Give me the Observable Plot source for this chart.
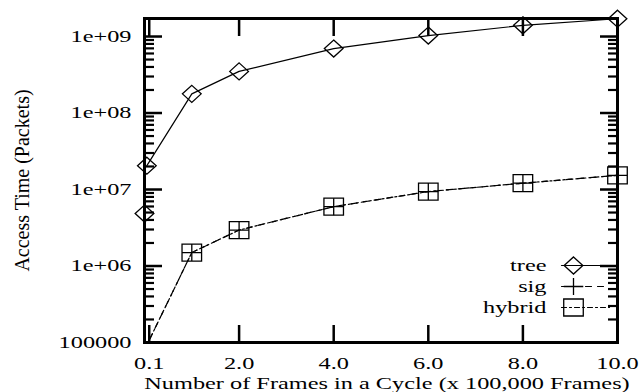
<!DOCTYPE html>
<html><head><meta charset="utf-8">
<script src="https://cdn.jsdelivr.net/npm/d3@7"></script>
<script src="https://cdn.jsdelivr.net/npm/@observablehq/plot@0.6"></script>
<style>
html,body{margin:0;padding:0;background:#fff;}
#chart svg{display:block;}
#chart svg, #chart svg text{font-family:"Liberation Serif","Times New Roman",serif !important;}
</style></head><body><div id="chart"></div>
<script>
// ---- data ----
const treeX = [0.05, 1, 2, 4, 6, 8, 10];
const treeY = [2.05e7, 1.78e8, 3.5e8, 6.95e8, 1.03e9, 1.4e9, 1.71e9];
const treeLoneX = [0];
const treeLoneY = [4.85e6];
const sigX = [0, 1, 2, 4, 6, 8, 10];
const sigY = [8e4, 1.5e6, 2.95e6, 5.97e6, 9.4e6, 1.21e7, 1.53e7];
const hybridX = [0, 1, 2, 4, 6, 8, 10];
const hybridY = [8e4, 1.5e6, 2.95e6, 5.97e6, 9.4e6, 1.21e7, 1.53e7];
const xTicks = [0.1, 2, 4, 6, 8, 10];
const xTickLabels = ["0.1", "2.0", "4.0", "6.0", "8.0", "10.0"];
const yTicks = [1e5, 1e6, 1e7, 1e8, 1e9];
const yTickLabels = ["100000", "1e+06", "1e+07", "1e+08", "1e+09"];
const legendLabels = ["tree", "sig", "hybrid"];
const xLabel = "Number of Frames in a Cycle (x 100,000 Frames)";
const yLabel = "Access Time (Packets)";
const xDomain = [0, 10];
const yDomain = [1e5, 1.72e9];

// ---- build ----
const yMinor = [];
for (const d of yTicks) for (let m = 2; m <= 9; m++) if (d * m <= yDomain[1]) yMinor.push(d * m);

const tree = treeX.map((x, i) => ({x, y: treeY[i]}));
const treeLone = treeLoneX.map((x, i) => ({x, y: treeLoneY[i]}));
const sig = sigX.map((x, i) => ({x, y: sigY[i]}));
const hybrid = hybridX.map((x, i) => ({x, y: hybridY[i]}));
const inRange = d => d.y >= yDomain[0] && d.y <= yDomain[1];

const diamondSym = {draw(c, s) { const r = Math.sqrt(s / Math.PI), rx = r * 1.1;
  c.moveTo(0, -r); c.lineTo(rx, 0); c.lineTo(0, r); c.lineTo(-rx, 0); c.closePath(); }};
const squareSym = {draw(c, s) { const r = Math.sqrt(s / Math.PI), rx = r * 1.15;
  c.moveTo(-rx, -r); c.lineTo(rx, -r); c.lineTo(rx, r); c.lineTo(-rx, r); c.closePath(); }};
const plusSym = {draw(c, s) { const r = Math.sqrt(s / Math.PI), rx = r * 1.15;
  c.moveTo(-rx, 0); c.lineTo(rx, 0); c.moveTo(0, -r); c.lineTo(0, r); }};
const lineShape = {draw(c, l) { c.moveTo(0, 0); c.lineTo(0, -l); }};

const series = [
  {dash: null, sym: diamondSym},
  {dash: "6,6", sym: plusSym},
  {dash: "5,3,2,3", sym: squareSym}
];
const legendDy = [-77, -56, -35];

const legendMarks = legendLabels.flatMap((lab, i) => [
  Plot.text([lab], {frameAnchor: "bottom-right", text: d => d, textAnchor: "end", lineAnchor: "middle", dx: -71, dy: legendDy[i], fill: "black"}),
  Plot.vector([lab], {frameAnchor: "bottom-right", dx: -56, dy: legendDy[i], rotate: 90, anchor: "start", length: 48,
    shape: lineShape, stroke: "black", strokeWidth: 1.2, strokeDasharray: series[i].dash}),
  Plot.dot([lab], {frameAnchor: "bottom-right", dx: -44, dy: legendDy[i], r: 8.5, symbol: series[i].sym,
    stroke: "black", fill: "none", strokeWidth: 1.3})
]);

const chart = Plot.plot({
  width: 641, height: 392,
  marginLeft: 144, marginRight: 24, marginTop: 18, marginBottom: 50,
  style: {fontFamily: "Liberation Serif", fontSize: "17px", background: "white", color: "black"},
  x: {domain: xDomain},
  y: {type: "log", domain: yDomain},
  marks: [
    // lines
    Plot.line(tree, {x: "x", y: "y", stroke: "black", strokeWidth: 1.2, clip: true}),
    Plot.line(sig, {x: "x", y: "y", stroke: "black", strokeWidth: 1.2, strokeDasharray: "6,6", clip: true}),
    Plot.line(hybrid, {x: "x", y: "y", stroke: "black", strokeWidth: 1.2, strokeDasharray: "5,3,2,3", clip: true}),
    // points
    Plot.dot(tree.filter(inRange), {x: "x", y: "y", r: 8.5, symbol: diamondSym, stroke: "black", fill: "none", strokeWidth: 1.3}),
    Plot.dot(treeLone.filter(inRange), {x: "x", y: "y", r: 8.5, symbol: diamondSym, stroke: "black", fill: "none", strokeWidth: 1.3}),
    Plot.dot(sig.filter(inRange), {x: "x", y: "y", r: 8.5, symbol: plusSym, stroke: "black", fill: "none", strokeWidth: 1.3}),
    Plot.dot(hybrid.filter(inRange), {x: "x", y: "y", r: 8.5, symbol: squareSym, stroke: "black", fill: "none", strokeWidth: 1.3}),
    // inward ticks
    Plot.axisX(xTicks, {anchor: "bottom", tickSize: -17, strokeWidth: 2.5, text: null, label: null}),
    Plot.axisX(xTicks, {anchor: "top", tickSize: -17, strokeWidth: 2.5, text: null, label: null}),
    Plot.axisY(yTicks, {anchor: "left", tickSize: -18, strokeWidth: 2.5, text: null, label: null}),
    Plot.axisY(yTicks, {anchor: "right", tickSize: -18, strokeWidth: 2.5, text: null, label: null}),
    Plot.axisY(yMinor, {anchor: "left", tickSize: -10, strokeWidth: 2.2, text: null, label: null}),
    Plot.axisY(yMinor, {anchor: "right", tickSize: -10, strokeWidth: 2.2, text: null, label: null}),
    // tick labels
    Plot.axisX(xTicks, {anchor: "bottom", tickSize: 0, tickPadding: 14, label: null,
      tickFormat: d => xTickLabels[xTicks.indexOf(d)]}),
    Plot.axisY(yTicks, {anchor: "left", tickSize: 0, tickPadding: 13, label: null,
      tickFormat: d => yTickLabels[yTicks.indexOf(d)]}),
    // axis titles
    Plot.text([xLabel], {frameAnchor: "bottom", text: d => d, textAnchor: "middle", lineAnchor: "middle", dx: 6, dy: 41, fill: "black"}),
    Plot.text([yLabel], {frameAnchor: "left", text: d => d, textAnchor: "middle", lineAnchor: "middle", rotate: -90, dx: -122, fontSize: 20, fill: "black"}),
    ...legendMarks,
    Plot.frame({stroke: "black", strokeWidth: 3})
  ]
});

document.getElementById("chart").append(chart);
// the original gnuplot output was stretched horizontally: widen horizontal glyphs to match
chart.querySelectorAll("text").forEach(t => {
  const rot = (t.getAttribute("transform") || "").includes("rotate");
  if (rot) return;
  const len = t.getComputedTextLength();
  if (!len) return;
  t.setAttribute("textLength", len * 1.43);
  t.setAttribute("lengthAdjust", "spacingAndGlyphs");
});
</script></body></html>
